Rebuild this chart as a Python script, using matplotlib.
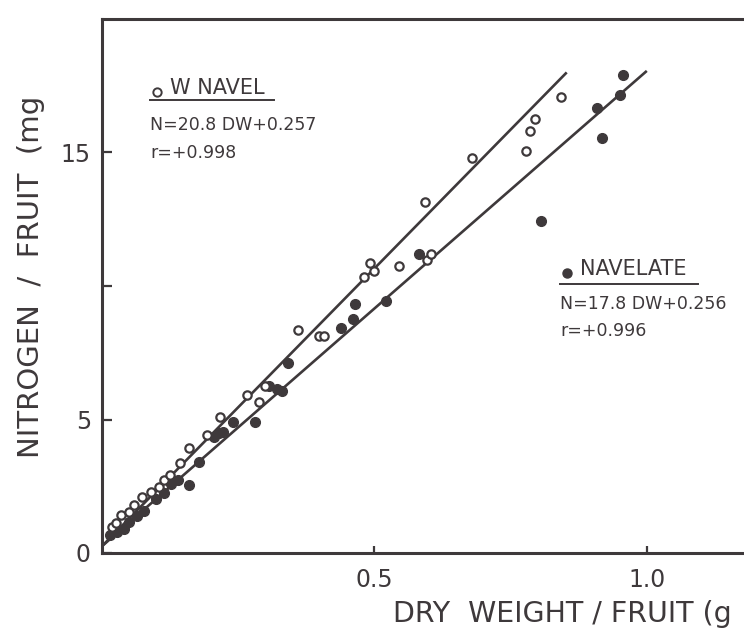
import matplotlib
matplotlib.use("Agg")
import matplotlib.pyplot as plt
import numpy as np

# --- data -------------------------------------------------------------
# W NAVEL (open circles): dry weight (g) and nitrogen (mg) per fruit
navel_dw = [0.019, 0.025, 0.034, 0.049, 0.059, 0.074, 0.090, 0.105, 0.114,
            0.124, 0.144, 0.159, 0.192, 0.217, 0.266, 0.288, 0.300, 0.360,
            0.398, 0.407, 0.481, 0.492, 0.499, 0.545, 0.593, 0.597, 0.604,
            0.679, 0.779, 0.785, 0.795, 0.843]
navel_n = [0.96, 1.13, 1.41, 1.53, 1.78, 2.09, 2.27, 2.48, 2.73,
           2.91, 3.38, 3.94, 4.43, 5.11, 5.93, 5.65, 6.27, 8.35,
           8.12, 8.11, 10.34, 10.86, 10.58, 10.76, 13.16, 10.99, 11.18,
           14.80, 15.05, 15.81, 16.27, 17.08]

# NAVELATE (filled circles)
navelate_dw = [0.015, 0.028, 0.040, 0.049, 0.065, 0.077, 0.099, 0.114, 0.127,
               0.140, 0.160, 0.178, 0.205, 0.214, 0.222, 0.241, 0.281, 0.307,
               0.322, 0.331, 0.341, 0.439, 0.461, 0.465, 0.522, 0.582, 0.806,
               0.908, 0.917, 0.950, 0.957]
navelate_n = [0.67, 0.79, 0.91, 1.16, 1.40, 1.59, 2.02, 2.26, 2.57,
              2.75, 2.56, 3.40, 4.35, 4.48, 4.55, 4.91, 4.90, 6.27,
              6.14, 6.07, 7.13, 8.42, 8.78, 9.34, 9.43, 11.18, 12.43,
              16.68, 15.56, 17.17, 17.89]

# regression lines: N = slope * DW + intercept
navel_fit = (20.8, 0.257)
navelate_fit = (17.8, 0.256)
navel_range = (0.0, 0.853)
navelate_range = (0.0, 1.0)

x_ticks = [0.5, 1.0]
x_ticklabels = ["0.5", "1.0"]
y_ticks = [0, 5, 10, 15]
y_ticklabels = ["0", "5", "", "15"]

# --- figure -----------------------------------------------------------
W, H = 744, 629
ink = "#3e393b"
plt.rcParams["font.family"] = ["DejaVu Sans"]

fig = plt.figure(figsize=(W / 100, H / 100), dpi=100)
fig.patch.set_facecolor("white")


def fx(px):
    return px / W


def fy(py):
    return 1 - py / H


ax = fig.add_axes([fx(102), fy(553), 681 / W, 534 / H])
ax.set_xlim(0, 1.25)
ax.set_ylim(0, 20)

for side in ["left", "bottom", "top", "right"]:
    ax.spines[side].set_linewidth(2.2)
    ax.spines[side].set_color(ink)

ax.set_xticks(x_ticks)
ax.set_xticklabels(x_ticklabels)
ax.set_yticks(y_ticks)
ax.set_yticklabels(y_ticklabels)
ax.tick_params(axis="x", direction="in", length=5, width=1.6, colors=ink,
               labelsize=17, pad=11)
ax.tick_params(axis="y", direction="in", length=7, width=1.6, colors=ink,
               labelsize=17, pad=8)

# regression lines
for fit, rng in [(navel_fit, navel_range), (navelate_fit, navelate_range)]:
    xs = np.array(rng)
    ax.plot(xs, fit[0] * xs + fit[1], color=ink, lw=1.9,
            solid_capstyle="butt", zorder=2)

# points
ax.plot(navelate_dw, navelate_n, "o", ms=7, color=ink, mec=ink, zorder=3)
ax.plot(navel_dw, navel_n, "o", ms=6, mfc="white", mec=ink, mew=1.6,
        zorder=4)

# axis labels
fig.text(fx(393), fy(614), "DRY  WEIGHT / FRUIT (g", fontsize=20.5,
         color=ink, ha="left", va="center")
fig.text(fx(31), fy(458), "NITROGEN  /  FRUIT  (mg", fontsize=21,
         color=ink, ha="center", va="bottom", rotation=90)

# annotations
head = dict(fontsize=15, color=ink, ha="left", va="center")
body = dict(fontsize=12.5, color=ink, ha="left", va="center")

ax.plot([fx(157)], [fy(92)], "o", ms=6, mfc="white", mec=ink, mew=1.4,
        transform=fig.transFigure, clip_on=False)
fig.text(fx(170), fy(88), "W NAVEL", **head)
fig.add_artist(plt.Line2D([fx(150), fx(274)], [fy(100), fy(100)],
                          color=ink, lw=1.4))
fig.text(fx(150), fy(125), "N=20.8 DW+0.257", **body)
fig.text(fx(150), fy(153), "r=+0.998", **body)

ax.plot([fx(567)], [fy(273)], "o", ms=6.5, color=ink,
        transform=fig.transFigure, clip_on=False)
fig.text(fx(580), fy(269), "NAVELATE", **head)
fig.add_artist(plt.Line2D([fx(560), fx(698)], [fy(284), fy(284)],
                          color=ink, lw=1.4))
fig.text(fx(560), fy(304), "N=17.8 DW+0.256", **body)
fig.text(fx(560), fy(331), "r=+0.996", **body)

fig.savefig("out.png", dpi=100, facecolor="white")
